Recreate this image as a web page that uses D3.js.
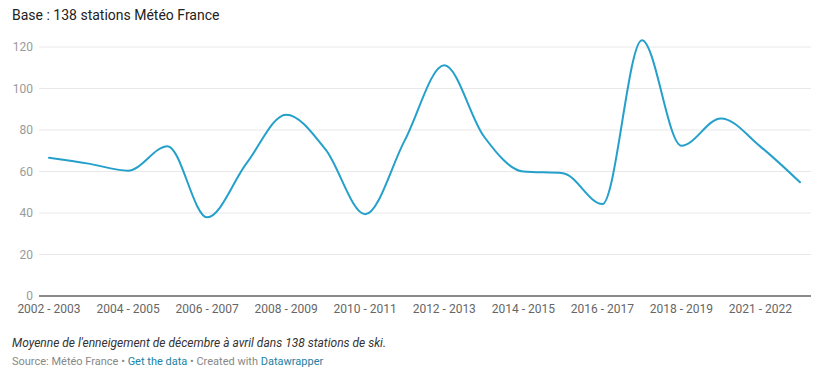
<!DOCTYPE html>
<html>
<head>
<meta charset="utf-8">
<script src="https://cdn.jsdelivr.net/npm/d3@7"></script>
<style>
  html, body { margin: 0; padding: 0; background: #fff; }
  body { width: 840px; height: 379px; overflow: hidden; font-family: Roboto, "Noto Sans", sans-serif; }
  svg text { font-family: Roboto, "Noto Sans", sans-serif; }
</style>
</head>
<body>
<svg id="chart" width="840" height="379"></svg>
<script>
const seasons = ["2002 - 2003","2003 - 2004","2004 - 2005","2005 - 2006","2006 - 2007","2007 - 2008","2008 - 2009","2009 - 2010","2010 - 2011","2011 - 2012","2012 - 2013","2013 - 2014","2014 - 2015","2015 - 2016","2016 - 2017","2017 - 2018","2018 - 2019","2019 - 2020","2021 - 2022","2022 - 2023"];
const snow = [66.6, 63.8, 60.4, 72.2, 37.9, 64, 87.4, 70.5, 39.4, 75, 111.2, 77, 60, 59.2, 44.3, 123.3, 72.4, 85.6, 72, 54.8];
const tickLabels = ["2002 - 2003","2004 - 2005","2006 - 2007","2008 - 2009","2010 - 2011","2012 - 2013","2014 - 2015","2016 - 2017","2018 - 2019","2021 - 2022"];
const yTicks = [0, 20, 40, 60, 80, 100, 120];
const title = "Base : 138 stations Météo France";
const note = "Moyenne de l'enneigement de décembre à avril dans 138 stations de ski.";

const svg = d3.select("#chart");
const plotLeft = 39, plotRight = 811, plotTop = 47, plotBottom = 296;

const x = d3.scalePoint().domain(seasons).range([49, 800]);
const y = d3.scaleLinear().domain([0, 120]).range([plotBottom, plotTop]);

svg.append("text").attr("x", 12).attr("y", 20)
  .attr("font-size", 14).attr("fill", "#222").text(title);

// grid
const g = svg.append("g");
g.selectAll("line.grid").data(yTicks.filter(d => d !== 0)).join("line")
  .attr("x1", plotLeft).attr("x2", plotRight)
  .attr("y1", d => y(d)).attr("y2", d => y(d))
  .attr("stroke", "#e8e8e8").attr("stroke-width", 1);

g.selectAll("text.ylab").data(yTicks).join("text")
  .attr("x", 33).attr("y", d => y(d)).attr("dy", "0.35em")
  .attr("text-anchor", "end").attr("font-size", 12).attr("fill", "#9a9a9a")
  .text(d => d);

// baseline
g.append("line").attr("x1", plotLeft).attr("x2", plotRight)
  .attr("y1", y(0)).attr("y2", y(0))
  .attr("stroke", "#8a8a8a").attr("stroke-width", 2);

// x labels
g.selectAll("text.xlab").data(tickLabels).join("text")
  .attr("x", d => x(d)).attr("y", 309).attr("dy", "0.35em")
  .attr("text-anchor", "middle").attr("font-size", 12).attr("fill", "#666")
  .text(d => d);

// line
const line = d3.line()
  .x((d, i) => x(seasons[i]))
  .y(d => y(d))
  .curve(d3.curveMonotoneX);

svg.append("path").datum(snow)
  .attr("d", line).attr("fill", "none")
  .attr("stroke", "#24a0cb").attr("stroke-width", 2)
  .attr("stroke-linejoin", "round").attr("stroke-linecap", "round");

// notes
svg.append("text").attr("x", 12).attr("y", 347)
  .attr("font-size", 12).attr("font-style", "italic").attr("fill", "#333")
  .text(note);

const src = svg.append("text").attr("x", 12).attr("y", 365).attr("font-size", 11).attr("fill", "#888");
src.append("tspan").text("Source: Météo France • ");
src.append("tspan").attr("fill", "#1d81a2").text("Get the data");
src.append("tspan").text(" • Created with ");
src.append("tspan").attr("fill", "#1d81a2").text("Datawrapper");
</script>
</body>
</html>
